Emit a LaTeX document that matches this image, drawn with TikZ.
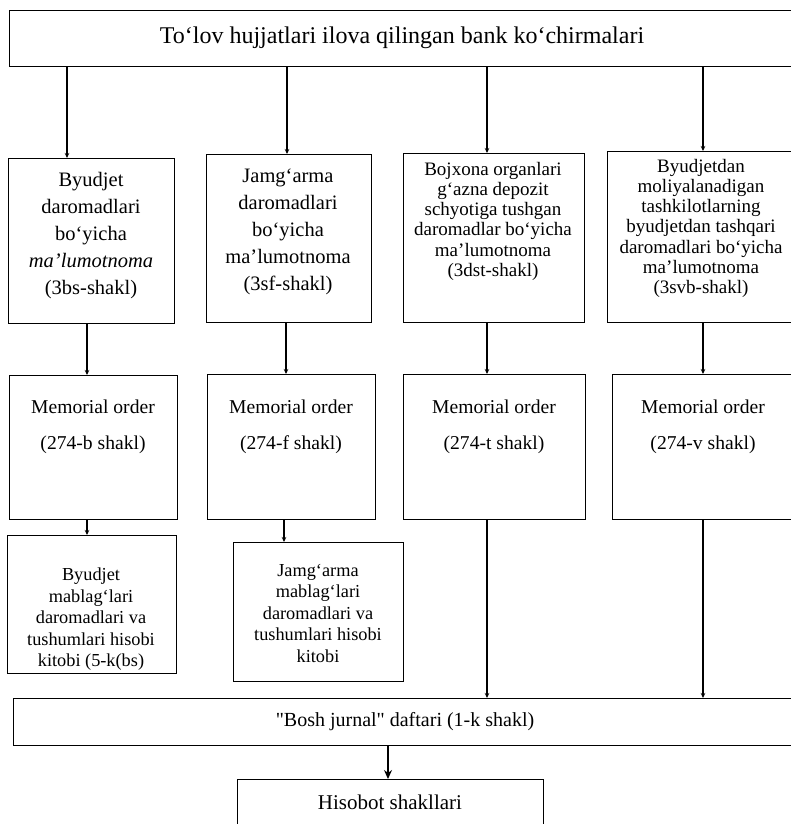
\documentclass[tikz,border=0pt]{standalone}
\usepackage{fontspec}
\setmainfont{Liberation Serif}
\usetikzlibrary{arrows.meta}
\begin{document}
\begin{tikzpicture}[x=1pt,y=-1pt,
  box/.style={draw, line width=1.2pt, anchor=north west, inner sep=0pt},
  txt/.style={align=center, inner sep=0pt, anchor=north},
  bigtxt/.style={txt, font=\fontsize{20.5}{27}\selectfont},
  midtxt/.style={txt, font=\fontsize{19}{20.2}\selectfont},
  smalltxt/.style={txt, font=\fontsize{18.3}{21.5}\selectfont},
  memtxt/.style={txt, font=\fontsize{19.6}{36}\selectfont},
  arr/.style={line width=1.2pt, -{Stealth[length=5pt,width=4.5pt]}},
  bigarr/.style={line width=1.3pt, -{Stealth[length=9pt,width=8pt]}}
]
\useasboundingbox (0,0) rectangle (791,824);
\clip (0,0) rectangle (791,824);
\fill[white] (0,0) rectangle (791,824);

% top box
\node[box, minimum width=795pt, minimum height=56pt] (T) at (9,10) {};
\node[inner sep=0pt, font=\fontsize{24}{28}\selectfont] (Tt) at (402,38) {To‘lov hujjatlari ilova qilingan bank ko‘chirmalari};

% second row
\node[box, minimum width=166pt, minimum height=165pt] (B1) at (8,158) {};
\node[box, minimum width=165pt, minimum height=168pt] (B2) at (206,154) {};
\node[box, minimum width=181pt, minimum height=169pt] (B3) at (403,153) {};
\node[box, minimum width=200pt, minimum height=171pt] (B4) at (607,151) {};
\node[bigtxt] (B1t) at (91,172) {Byudjet\\daromadlari\\bo‘yicha\\\textit{ma’lumotnoma}\\(3bs-shakl)};
\node[bigtxt] (B2t) at (288,169) {Jamg‘arma\\daromadlari\\bo‘yicha\\ma’lumotnoma\\(3sf-shakl)};
\node[midtxt] (B3t) at (493,162) {Bojxona organlari\\g‘azna depozit\\schyotiga tushgan\\daromadlar bo‘yicha\\ma’lumotnoma\\(3dst-shakl)};
\node[midtxt] (B4t) at (701,159) {Byudjetdan\\moliyalanadigan\\tashkilotlarning\\byudjetdan tashqari\\daromadlari bo‘yicha\\ma’lumotnoma\\(3svb-shakl)};

% memorial orders
\node[box, minimum width=168pt, minimum height=144pt] (M1) at (9,375) {};
\node[box, minimum width=168pt, minimum height=145pt] (M2) at (207,374) {};
\node[box, minimum width=182pt, minimum height=145pt] (M3) at (403,374) {};
\node[box, minimum width=195pt, minimum height=145pt] (M4) at (612,374) {};
\node[memtxt] (M1t) at (93,400) {Memorial order\\(274-b shakl)};
\node[memtxt] (M2t) at (291,400) {Memorial order\\(274-f shakl)};
\node[memtxt] (M3t) at (494,400) {Memorial order\\(274-t shakl)};
\node[memtxt] (M4t) at (703,400) {Memorial order\\(274-v shakl)};

% books
\node[box, minimum width=169pt, minimum height=138pt] (B5) at (7,535) {};
\node[box, minimum width=170pt, minimum height=139pt] (B6) at (233,542) {};
\node[smalltxt] (B5t) at (91,568) {Byudjet\\mablag‘lari\\daromadlari va\\tushumlari hisobi\\kitobi (5-k(bs)};
\node[smalltxt] (B6t) at (318,564) {Jamg‘arma\\mablag‘lari\\daromadlari va\\tushumlari hisobi\\kitobi};

% general journal
\node[box, minimum width=795pt, minimum height=47pt] (J) at (13,698) {};
\node[inner sep=0pt, font=\fontsize{20}{24}\selectfont] (Jt) at (405,722) {\textquotedbl Bosh jurnal\textquotedbl{} daftari (1-k shakl)};

% reports
\node[box, minimum width=306pt, minimum height=60pt] (H) at (237,779) {};
\node[inner sep=0pt, font=\fontsize{21}{25}\selectfont] (Ht) at (390,802) {Hisobot shakllari};

% connector x positions
\coordinate (c1) at (67,0);
\coordinate (c2) at (287,0);
\coordinate (c3) at (487,0);
\coordinate (c4) at (703,0);
\coordinate (d1) at (87,0);
\coordinate (d2) at (286,0);
\coordinate (e2) at (284,0);
\coordinate (f) at (388,0);

\draw[arr] (T.south -| c1) -- (B1.north -| c1);
\draw[arr] (T.south -| c2) -- (B2.north -| c2);
\draw[arr] (T.south -| c3) -- (B3.north -| c3);
\draw[arr] (T.south -| c4) -- (B4.north -| c4);

\draw[arr] (B1.south -| d1) -- (M1.north -| d1);
\draw[arr] (B2.south -| d2) -- (M2.north -| d2);
\draw[arr] (B3.south -| c3) -- (M3.north -| c3);
\draw[arr] (B4.south -| c4) -- (M4.north -| c4);

\draw[arr] (M1.south -| d1) -- (B5.north -| d1);
\draw[arr] (M2.south -| e2) -- (B6.north -| e2);
\draw[arr] (M3.south -| c3) -- (J.north -| c3);
\draw[arr] (M4.south -| c4) -- (J.north -| c4);

\draw[bigarr] (J.south -| f) -- (H.north -| f);
\end{tikzpicture}
\end{document}
